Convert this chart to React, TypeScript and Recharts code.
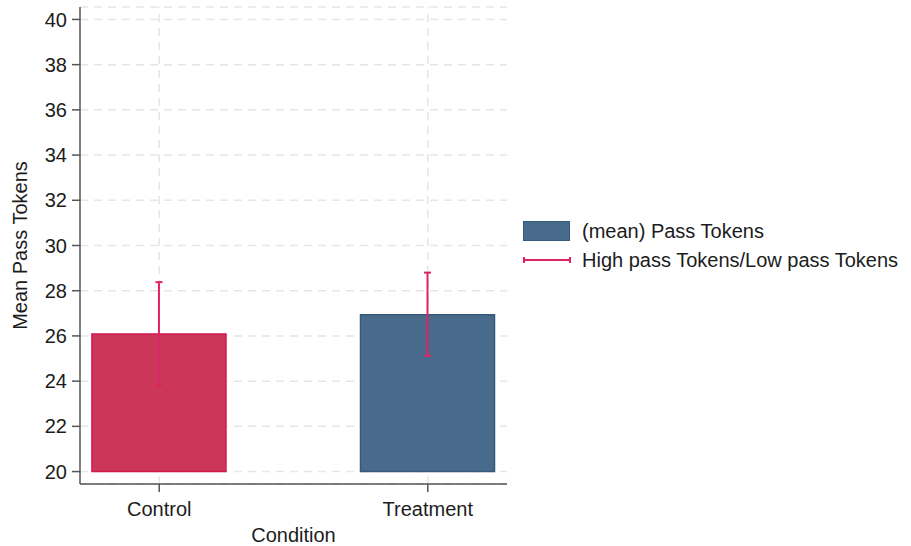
import React from 'react';
import { ComposedChart, Bar, XAxis, YAxis, CartesianGrid, ErrorBar, Cell, ReferenceLine } from 'recharts';

const categories = ['Control', 'Treatment'];
const categoryPositions = [0, 1];
const meanValues = [26.08, 26.94];
const lowValues = [23.82, 25.12];
const highValues = [28.38, 28.8];
const barBase = 20;
const yTicks = [20, 22, 24, 26, 28, 30, 32, 34, 36, 38, 40];
const barFills = ['#cc3759', '#486a8b'];
const barStrokes = ['#d4164f', '#365a7d'];
const errorColor = '#dc2463';
const legendLabels = ['(mean) Pass Tokens', 'High pass Tokens/Low pass Tokens'];

const data = categories.map((name, i) => ({
  name,
  pos: categoryPositions[i],
  range: [barBase, meanValues[i]],
  err: [meanValues[i] - lowValues[i], highValues[i] - meanValues[i]],
}));

const FONT = '"Liberation Sans", Arial, sans-serif';
const TEXT = '#1c1c1c';
const GRID = '#e6e6e6';

export default function App() {
  const refProps: any = { zIndex: -50 };
  return (
    <div style={{ position: 'absolute', left: 0, top: 0, width: 911, height: 546, background: '#fff', fontFamily: FONT }}>
      <ComposedChart
        width={911}
        height={546}
        data={data}
        margin={{ top: 7, right: 404, bottom: 0, left: 0 }}
      >
        <CartesianGrid stroke={GRID} strokeDasharray="8 6" strokeWidth={1.5} vertical={false} />
        {categoryPositions.map((p) => (
          <ReferenceLine key={p} x={p} stroke={GRID} strokeDasharray="8 6" strokeWidth={1.5} {...refProps} />
        ))}
        <XAxis
          type="number"
          dataKey="pos"
          domain={[-0.295, 1.295]}
          allowDataOverflow
          ticks={categoryPositions}
          tickFormatter={(v: number) => categories[v] ?? ''}
          height={62}
          tickSize={8}
          tickMargin={10}
          axisLine={{ stroke: '#555', strokeWidth: 1.5 }}
          tickLine={{ stroke: '#555', strokeWidth: 1.5 }}
          tick={{ fontSize: 20, fill: TEXT, fontFamily: FONT }}
          label={{
            content: () => (
              <text x={293.5} y={541.5} textAnchor="middle" fontSize={20} fill={TEXT} fontFamily={FONT}>
                Condition
              </text>
            ),
          }}
        />
        <YAxis
          type="number"
          domain={[19.45, 40.55]}
          allowDataOverflow
          ticks={yTicks}
          width={80}
          tickSize={8}
          tickMargin={5}
          axisLine={{ stroke: '#555', strokeWidth: 1.5 }}
          tickLine={{ stroke: '#555', strokeWidth: 1.5 }}
          tick={{ fontSize: 20, fill: TEXT, fontFamily: FONT }}
          label={{
            content: () => (
              <text
                x={26.5}
                y={245.5}
                transform="rotate(-90 26.5 245.5)"
                textAnchor="middle"
                fontSize={20}
                fill={TEXT}
                fontFamily={FONT}
              >
                Mean Pass Tokens
              </text>
            ),
          }}
        />
        <Bar dataKey="range" barSize={134} isAnimationActive={false} strokeWidth={1.5}>
          {data.map((d, i) => (
            <Cell key={d.name} fill={barFills[i]} stroke={barStrokes[i]} />
          ))}
          <ErrorBar dataKey="err" width={3.5} stroke={errorColor} strokeWidth={2} direction="y" />
        </Bar>
      </ComposedChart>
      <div style={{ position: 'absolute', left: 523, top: 221, fontFamily: FONT, fontSize: 20, color: TEXT }}>
        <div style={{ position: 'absolute', left: 0, top: 0, width: 47, height: 20, background: '#486a8b', border: '1px solid #365a7d', boxSizing: 'border-box' }} />
        <div style={{ position: 'absolute', left: 59, top: -1, whiteSpace: 'nowrap', lineHeight: '23px' }}>{legendLabels[0]}</div>
        <svg style={{ position: 'absolute', left: 0, top: 34 }} width={48} height={10}>
          <line x1={1} y1={5} x2={47} y2={5} stroke={errorColor} strokeWidth={2} />
          <line x1={1} y1={2} x2={1} y2={8} stroke={errorColor} strokeWidth={2} />
          <line x1={47} y1={2} x2={47} y2={8} stroke={errorColor} strokeWidth={2} />
        </svg>
        <div style={{ position: 'absolute', left: 59, top: 27.5, whiteSpace: 'nowrap', lineHeight: '23px' }}>{legendLabels[1]}</div>
      </div>
    </div>
  );
}
